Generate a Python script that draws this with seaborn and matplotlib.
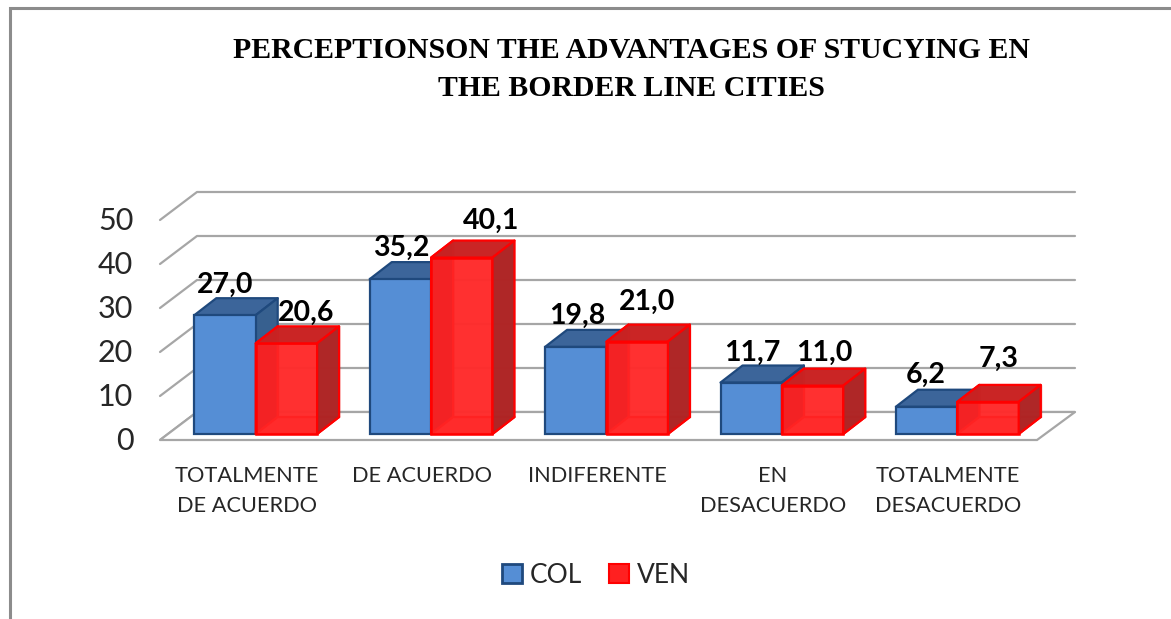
import matplotlib
matplotlib.use("Agg")
import matplotlib.pyplot as plt
from matplotlib.patches import Polygon
from matplotlib.lines import Line2D
from matplotlib.transforms import ScaledTranslation
import pandas as pd
import seaborn as sns

categories = ["TOTALMENTE\nDE ACUERDO", "DE ACUERDO", "INDIFERENTE", "EN\nDESACUERDO", "TOTALMENTE\nDESACUERDO"]
col_values = [27.0, 35.2, 19.8, 11.7, 6.2]
ven_values = [20.6, 40.1, 21.0, 11.0, 7.3]
col_labels = ["27,0", "35,2", "19,8", "11,7", "6,2"]
ven_labels = ["20,6", "40,1", "21,0", "11,0", "7,3"]
y_ticks = [0, 10, 20, 30, 40, 50]
title = "PERCEPTIONSON THE ADVANTAGES OF STUCYING EN\nTHE BORDER LINE CITIES"

W, H = 1171, 619
sns.set_theme(style="white")
plt.rcParams["font.family"] = ["Lato", "DejaVu Sans"]

fig = plt.figure(figsize=(W / 100, H / 100), dpi=100, facecolor="white")
L, R, B, T = 168, 1045, 434, 214
ax = fig.add_axes([L / W, 1 - B / H, (R - L) / W, (B - T) / H])

df = pd.DataFrame({
    "cat": categories * 2,
    "val": col_values + ven_values,
    "series": ["COL"] * 5 + ["VEN"] * 5,
})
sns.barplot(data=df, x="cat", y="val", hue="series", ax=ax, width=0.70, saturation=1,
            palette={"COL": "#558ED5", "VEN": "#FF2A2A"}, order=categories, legend=True)
ax.set_xlim(-0.5, 4.5)
ax.set_ylim(0, 50)
ax.set_xlabel("")
ax.set_ylabel("")
for s in ax.spines.values():
    s.set_visible(False)

ux = 1 / ((R - L) / 5)
uy = 50 / (B - T)
DX, DY = 22 * ux, 17 * uy


def plane(x, y, px, py):
    return x + px * ux, y + py * uy


# walls and floor
GRID = "#A6A6A6"
for v in y_ticks:
    x0, y0 = plane(-0.5, v, -8, -6)
    x1, y1 = plane(-0.5, v, 29, 22)
    x2, y2 = plane(4.5, v, 30, 22)
    ax.plot([x0, x1, x2], [y0, y1, y2], color=GRID, lw=1.6, clip_on=False, zorder=0.5)
fl = [plane(-0.5, 0, -8, -6), plane(4.5, 0, -8, -6), plane(4.5, 0, 30, 22), plane(-0.5, 0, 29, 22)]
ax.add_patch(Polygon(fl, closed=True, fc="white", ec=GRID, lw=1.6, clip_on=False, zorder=0.6))

cols = ax.containers[0]
vens = ax.containers[1]


def face(pts, fc, ec, lw=1.6, z=2):
    p = Polygon(pts, closed=True, fc=fc, ec=ec, lw=lw, clip_on=False, zorder=z, joinstyle="round")
    ax.add_patch(p)
    return p


for b in cols:
    x, w, h = b.get_x(), b.get_width(), b.get_height()
    b.set_edgecolor("#1F497D")
    b.set_linewidth(1.6)
    b.set_zorder(3)
    b.set_clip_on(False)
    face([(x, h), (x + w, h), (x + w + DX, h + DY), (x + DX, h + DY)], "#3C659A", "#1F497D", z=2.8)
    face([(x + w, 0), (x + w + DX, DY), (x + w + DX, h + DY), (x + w, h)], "#37608F", "#1F497D", z=2.8)

for b in vens:
    x, w, h = b.get_x(), b.get_width(), b.get_height()
    red = (1, 0, 0, 1)
    b.set_facecolor((1, 0.17, 0.17, 0.80))
    b.set_edgecolor(red)
    b.set_linewidth(1.8)
    b.set_zorder(4.4)
    b.set_clip_on(False)
    # inner faces seen through the translucent front
    face([(x, 0), (x + DX, DY), (x + DX, h + DY), (x, h)], (0.78, 0.0, 0.05, 1), (1, 0, 0, 1), z=4)
    face([(x + DX, DY), (x + w + DX, DY), (x + w + DX, h + DY), (x + DX, h + DY)], (1, 0.17, 0.17, 0.88), (0.9, 0, 0, 0.6), lw=1.0, z=3.9)
    face([(x, 0), (x + w, 0), (x + w + DX, DY), (x + DX, DY)], (1, 0.17, 0.17, 1), (1, 0, 0, 1), z=4.1)
    face([(x, h), (x + w, h), (x + w + DX, h + DY), (x + DX, h + DY)], (0.78, 0.14, 0.14, 0.95), (1, 0, 0, 1), z=4.6)
    face([(x + w, 0), (x + w + DX, DY), (x + w + DX, h + DY), (x + w, h)], (0.68, 0.15, 0.15, 0.97), (1, 0, 0, 1), z=4.6)

# value labels: horizontal / vertical offsets in pixels from each bar's top centre
col_off = [(0, 30), (1, 31), (1, 31), (1, 30), (-1, 32)]
ven_off = [(20, 31), (29, 37), (10, 40), (12, 33), (11, 43)]
for bars, labs, offs in ((cols, col_labels, col_off), (vens, ven_labels, ven_off)):
    for b, s, o in zip(bars, labs, offs):
        ax.annotate(s, (b.get_x() + b.get_width() / 2, b.get_height()), xytext=o,
                    textcoords="offset pixels", ha="center", va="center",
                    fontsize=20.5, fontweight="bold", color="black", zorder=6, annotation_clip=False)

# ticks
ax.set_yticks(y_ticks)
ax.set_yticklabels([str(v) for v in y_ticks])
ax.tick_params(axis="y", length=0, pad=25, labelsize=22, labelcolor="#262626")
ax.tick_params(axis="x", length=0, pad=23, labelsize=15.7, labelcolor="#262626")
ax.set_xticks(range(5))
ax.set_xticklabels(categories, linespacing=1.65, ha="center", va="top")
shift_y = ScaledTranslation(0, -5 / 100, fig.dpi_scale_trans)
for lab in ax.get_yticklabels():
    lab.set_transform(lab.get_transform() + shift_y)
shift_x = ScaledTranslation(-9 / 100, 0, fig.dpi_scale_trans)
for lab in ax.get_xticklabels():
    lab.set_transform(lab.get_transform() + shift_x)

# legend
h, l = ax.get_legend_handles_labels()
h[0].set_edgecolor("#1F497D"); h[0].set_linewidth(2)
h[1].set_edgecolor("#FF0000"); h[1].set_linewidth(1.5); h[1].set_facecolor("#FF2020")
ax.legend(h, l, loc="center", bbox_to_anchor=(596 / W, 1 - 575.5 / H), bbox_transform=fig.transFigure,
          ncol=2, frameon=False, fontsize=19, labelcolor="#262626", handlelength=0.75, handleheight=0.75,
          handletextpad=0.3, columnspacing=1.0, borderpad=0)

# title
fig.text(631 / W, 1 - 69.5 / H, title, ha="center", va="center", family="Liberation Serif",
         fontweight="bold", fontsize=21.4, color="black", linespacing=1.55)

# outer frame
fig.add_artist(Line2D([9.5 / W, 9.5 / W, 1], [0, 1 - 7.5 / H, 1 - 7.5 / H], color="#8C8C8C", lw=2.2,
                      solid_joinstyle="miter"))

fig.savefig("out.png", dpi=100)
